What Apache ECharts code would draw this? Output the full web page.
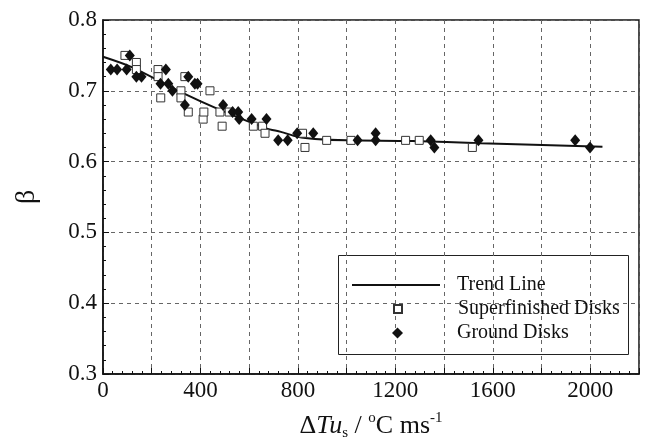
<!DOCTYPE html>
<html>
<head>
<meta charset="utf-8">
<script src="https://cdn.jsdelivr.net/npm/echarts@6/dist/echarts.min.js"></script>
<style>html,body{margin:0;padding:0;background:#fff}#c{width:646px;height:446px}</style>
</head>
<body>
<div id="c"></div>
<script>
// ---- data ----
var superX = [90, 137, 137, 226, 226, 237, 320, 320, 336, 350, 411, 414, 439, 480, 489, 518, 617, 655, 665, 819, 829, 918, 1018, 1242, 1298, 1516];
var superY = [0.75, 0.74, 0.73, 0.73, 0.72, 0.69, 0.70, 0.69, 0.72, 0.67, 0.66, 0.67, 0.70, 0.67, 0.65, 0.67, 0.65, 0.65, 0.64, 0.64, 0.62, 0.63, 0.63, 0.63, 0.63, 0.62];
var groundX = [32, 58, 97, 110, 137, 158, 236, 258, 268, 285, 336, 350, 377, 388, 493, 532, 555, 559, 610, 671, 719, 758, 797, 863, 1045, 1119, 1119, 1345, 1360, 1541, 1938, 1999];
var groundY = [0.73, 0.73, 0.73, 0.75, 0.72, 0.72, 0.71, 0.73, 0.71, 0.70, 0.68, 0.72, 0.71, 0.71, 0.68, 0.67, 0.67, 0.66, 0.66, 0.66, 0.63, 0.63, 0.64, 0.64, 0.63, 0.64, 0.63, 0.63, 0.62, 0.63, 0.63, 0.62];
var trendX = [0, 120, 320, 480, 670, 730, 800, 870, 1000, 1270, 1550, 2050];
var trendY = [0.748, 0.733, 0.698, 0.673, 0.647, 0.642, 0.635, 0.632, 0.630, 0.629, 0.626, 0.621];
var xTickLabels = [0, 400, 800, 1200, 1600, 2000];
var yTickLabels = ['0.3', '0.4', '0.5', '0.6', '0.7', '0.8'];
var seriesNames = ['Trend Line', 'Superfinished Disks', 'Ground Disks'];

function zip(a, b) { return a.map(function (v, i) { return [v, b[i]]; }); }

var FONT = '"Liberation Serif", "Times New Roman", serif';
var INK = '#111';
var legendText = { fontFamily: FONT, fontSize: 20, color: INK, lineHeight: 24 };
function legendTextPad(p) { return Object.assign({}, legendText, { padding: [0, 0, 0, p] }); }

var chart = echarts.init(document.getElementById('c'), null, { renderer: 'canvas' });
chart.setOption({
  backgroundColor: '#fff',
  animation: false,
  grid: { left: 103, right: 7, top: 20, bottom: 66, show: true, borderColor: INK, borderWidth: 1.5, backgroundColor: '#fff' },
  xAxis: {
    type: 'value', min: 0, max: 2200, interval: 200,
    axisLine: { lineStyle: { color: INK, width: 1.5 } },
    axisTick: { inside: true, length: 6, lineStyle: { color: INK } },
    minorTick: { show: true, splitNumber: 5, length: 3, lineStyle: { color: INK } },
    splitLine: { show: true, lineStyle: { color: '#666', type: [4, 4], width: 1 } },
    axisLabel: {
      margin: 5, color: INK, fontFamily: FONT, fontSize: 23,
      formatter: function (v) { return xTickLabels.indexOf(v) >= 0 ? String(v) : ''; }
    },
    name: '{n|Δ}{i|Tu}{sub|s}{n| / }{sup|o}{n|C ms}{sup|-1}',
    nameLocation: 'middle', nameGap: 52,
    nameTextStyle: {
      color: INK, fontFamily: FONT, fontSize: 26, verticalAlign: 'middle',
      rich: {
        n: { fontFamily: FONT, fontSize: 26, color: INK, lineHeight: 30 },
        i: { fontFamily: FONT, fontSize: 26, fontStyle: 'italic', color: INK, lineHeight: 30 },
        sub: { fontFamily: FONT, fontSize: 15, color: INK, verticalAlign: 'bottom', lineHeight: 30 },
        sup: { fontFamily: FONT, fontSize: 15, color: INK, verticalAlign: 'top', lineHeight: 30 }
      }
    }
  },
  yAxis: {
    type: 'value', min: 0.3, max: 0.8, interval: 0.1,
    axisLine: { lineStyle: { color: INK, width: 1.5 } },
    axisTick: { inside: true, length: 6, lineStyle: { color: INK } },
    minorTick: { show: true, splitNumber: 5, length: 3, lineStyle: { color: INK } },
    splitLine: { show: true, lineStyle: { color: '#666', type: [4, 4], width: 1 } },
    axisLabel: {
      margin: 6, color: INK, fontFamily: FONT, fontSize: 23,
      formatter: function (v) { var s = v.toFixed(1); return yTickLabels.indexOf(s) >= 0 ? s : ''; }
    },
    name: 'β', nameLocation: 'middle', nameGap: 76, nameRotate: 90,
    nameTextStyle: { color: INK, fontFamily: FONT, fontSize: 28, verticalAlign: 'middle', align: 'center' }
  },
  legend: [
    {
      orient: 'vertical', left: 352, top: 273, padding: 0, itemGap: 0,
      itemWidth: 88, itemHeight: 2, icon: 'rect',
      textStyle: legendTextPad(12), data: [seriesNames[0]]
    },
    {
      orient: 'vertical', left: 393, top: 297, padding: 0, itemGap: 0,
      itemWidth: 8, itemHeight: 8, icon: 'rect',
      textStyle: legendTextPad(51), data: [seriesNames[1]]
    },
    {
      orient: 'vertical', left: 392, top: 321, padding: 0, itemGap: 0,
      itemWidth: 11, itemHeight: 11, icon: 'diamond',
      textStyle: legendTextPad(49), data: [seriesNames[2]]
    }
  ],
  graphic: [{
    type: 'rect', z: 0, silent: true,
    shape: { x: 338.5, y: 255.5, width: 290, height: 99 },
    style: { fill: '#fff', stroke: '#222', lineWidth: 1 }
  }],
  series: [
    {
      name: seriesNames[0], type: 'line', data: zip(trendX, trendY), smooth: 0.3,
      showSymbol: false, symbol: 'none', z: 3,
      lineStyle: { color: INK, width: 2 }, itemStyle: { color: INK }
    },
    {
      name: seriesNames[1], type: 'scatter', data: zip(superX, superY), symbol: 'rect', symbolSize: 8, z: 4,
      itemStyle: { color: '#fff', borderColor: '#333', borderWidth: 1, opacity: 1 }
    },
    {
      name: seriesNames[2], type: 'scatter', data: zip(groundX, groundY), symbol: 'diamond', symbolSize: [10, 12], z: 5,
      itemStyle: { color: INK, opacity: 1 }
    }
  ]
});
</script>
</body>
</html>
